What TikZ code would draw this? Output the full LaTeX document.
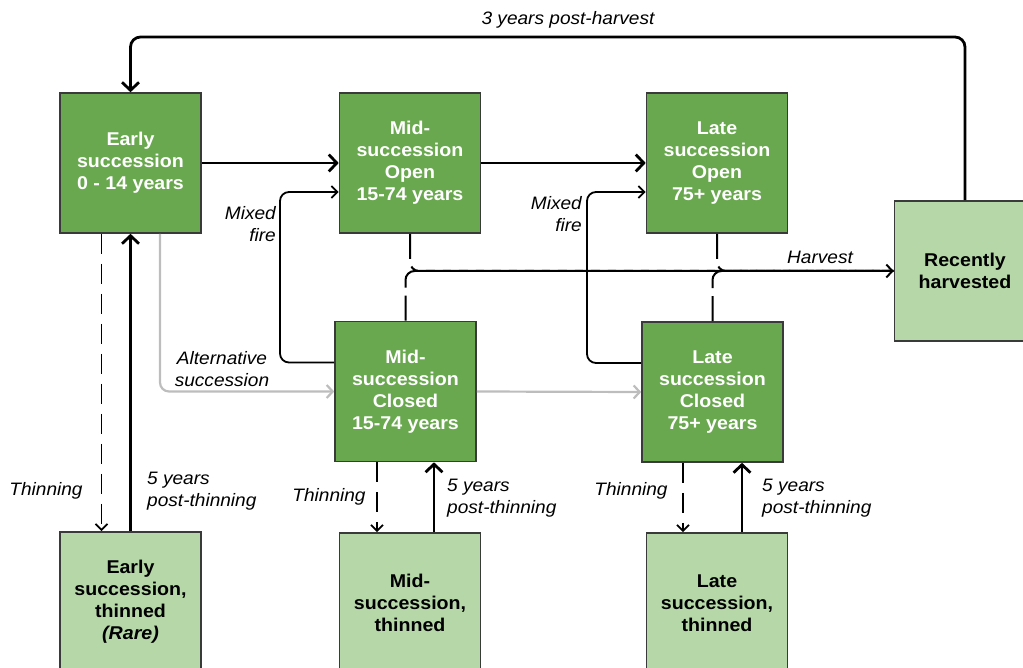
\documentclass[tikz,border=0pt]{standalone}
\usepackage{fontspec}
\setmainfont[FakeStretch=1.06]{Liberation Sans}
\usepackage{tikz}
\usetikzlibrary{arrows.meta}
\definecolor{darkgreen}{HTML}{6AA84F}
\definecolor{lightgreen}{HTML}{B6D7A8}
\definecolor{border}{HTML}{3A3A3A}
\definecolor{altgray}{HTML}{BDBDBD}
\tikzset{
  stageBox/.style={draw=border, line width=1.6pt, fill=darkgreen, text=white,
    minimum width=141pt, minimum height=140pt, inner sep=0pt, align=center,
    font=\fontsize{18.5}{22}\selectfont\bfseries},
  thinBox/.style={stageBox, fill=lightgreen, text=black},
  bigArr/.style={draw=black, line width=2.8pt, rounded corners=10pt,
    -{Straight Barb[length=8pt,width=17pt]}},
  smallArr/.style={draw=black, line width=1.8pt, rounded corners=9pt,
    -{Straight Barb[length=6pt,width=12pt]}},
  thinDash/.style={smallArr, dash pattern=on 20pt off 10pt},
  harvLine/.style={draw=black, line width=2pt, rounded corners=9pt,
    dash pattern=on 25pt off 8pt},
  grayArr/.style={draw=altgray, line width=2.2pt, rounded corners=9pt,
    -{Straight Barb[length=6pt,width=13pt]}},
  lbl/.style={font=\fontsize{18}{22}\selectfont\itshape, inner sep=0pt},
}

\begin{document}
\begin{tikzpicture}[x=1pt, y=-1pt]
  \useasboundingbox (0,0) rectangle (1023,668);

  % stages
  \node[stageBox] (early)      at (130.5,163) {Early\\succession\\0 - 14 years};
  \node[stageBox] (midopen)    at (410,163)   {Mid-\\succession\\Open\\15-74 years};
  \node[stageBox] (lateopen)   at (717,163)   {Late\\succession\\Open\\75+ years};
  \node[stageBox] (midclosed)  at (405.5,391.5) {Mid-\\succession\\Closed\\15-74 years};
  \node[stageBox] (lateclosed) at (712.5,392) {Late\\succession\\Closed\\75+ years};
  \node[thinBox]  (harvested)  at (965,271)   {Recently\\harvested};
  \node[thinBox]  (earlythin)  at (130.5,602) {Early\\succession,\\thinned\\\textit{(Rare)}};
  \node[thinBox]  (midthin)    at (410,603)   {Mid-\\succession,\\thinned};
  \node[thinBox]  (latethin)   at (717,603)   {Late\\succession,\\thinned};

  \coordinate (loop)  at (130.5,37);
  \coordinate (fireA) at (280,277);
  \coordinate (fireB) at (587,277);

  % harvest (dashed, merging)
  \draw[harvLine] (midclosed.north) |- (harvested.west);
  \draw[harvLine] (lateopen.south) |- (harvested.west);
  \draw[harvLine] (lateclosed.north) |- (harvested.west);
  \draw[harvLine, -{Straight Barb[length=6pt,width=13pt]}] (midopen.south) |- (harvested.west);

  % main succession
  \draw[bigArr] (harvested.north) |- (loop) -- (early.north);
  \draw[bigArr] (early.east) -- (midopen.west);
  \draw[bigArr] (midopen.east) -- (lateopen.west);

  % mixed fire
  \draw[smallArr] ([yshift=29pt]midclosed.west) -| (fireA) |- ([yshift=-29pt]midopen.west);
  \draw[smallArr] ([yshift=29pt]lateclosed.west) -| (fireB) |- ([yshift=-29pt]lateopen.west);

  % alternative succession
  \draw[grayArr] ([xshift=29.5pt]early.south) |- (midclosed.west);
  \draw[grayArr] (midclosed.east) -- (lateclosed.west);

  % thinning and recovery
  \draw[thinDash] ([xshift=-29pt]early.south) -- ([xshift=-29pt]earlythin.north);
  \draw[bigArr] (earlythin.north) -- (early.south);
  \draw[thinDash] ([xshift=-28.5pt]midclosed.south) -- ([xshift=-33pt]midthin.north);
  \draw[bigArr] ([xshift=24pt]midthin.north) -- ([xshift=28.5pt]midclosed.south);
  \draw[thinDash] ([xshift=-29.5pt]lateclosed.south) -- ([xshift=-34pt]latethin.north);
  \draw[bigArr] ([xshift=25pt]latethin.north) -- ([xshift=29.5pt]lateclosed.south);

  % labels
  \node[lbl] (lpost)  at (568,20)  {3 years post-harvest};
  \node[lbl] (lharv)  at (820,257) {Harvest};
  \node[lbl, align=right, anchor=east] (lfireA) at (276,224) {Mixed\\fire};
  \node[lbl, align=right, anchor=east] (lfireB) at (582,214) {Mixed\\fire};
  \node[lbl, align=center] (lalt) at (222,369) {Alternative\\succession};
  \node[lbl] (lthinA) at (46,491)  {Thinning};
  \node[lbl] (lthinB) at (329,497) {Thinning};
  \node[lbl] (lthinC) at (631,491) {Thinning};
  \node[lbl, align=left, anchor=west] (lrecA) at (147,491) {5 years\\post-thinning};
  \node[lbl, align=left, anchor=west] (lrecB) at (447,498) {5 years\\post-thinning};
  \node[lbl, align=left, anchor=west] (lrecC) at (762,498) {5 years\\post-thinning};
\end{tikzpicture}
\end{document}
